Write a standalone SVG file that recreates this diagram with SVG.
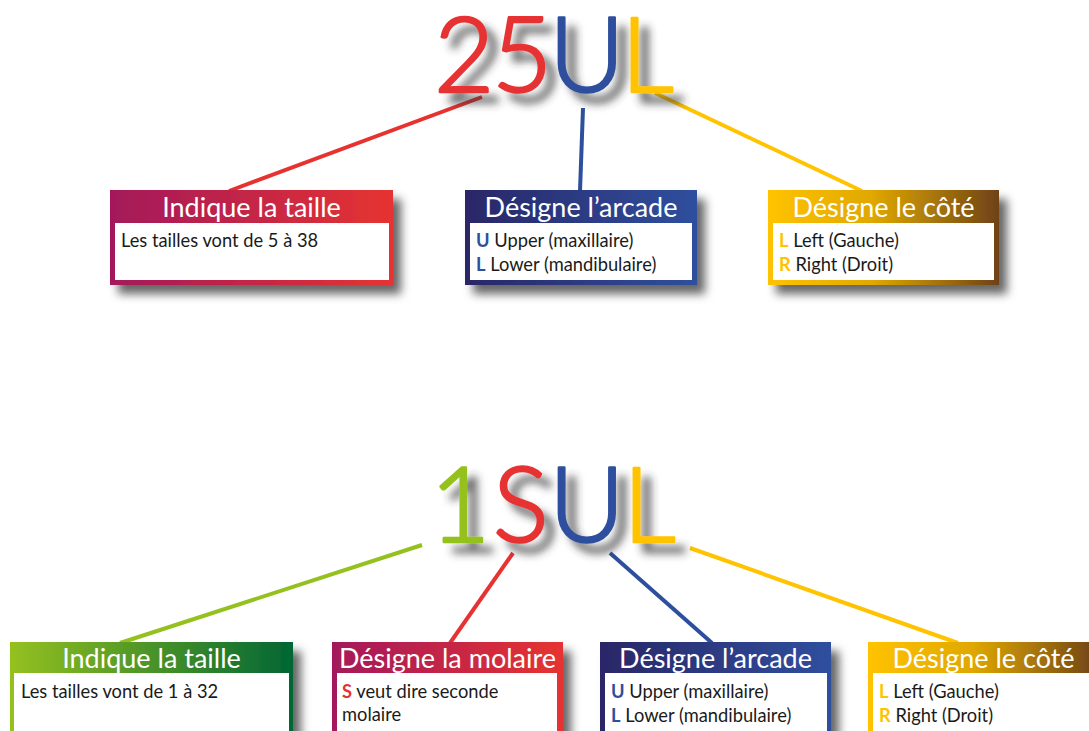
<svg xmlns="http://www.w3.org/2000/svg" width="1089" height="731" viewBox="0 0 1089 731">
<defs>
<linearGradient id="gRed" x1="0" y1="0" x2="1" y2="0"><stop offset="0" stop-color="#A3195B"/><stop offset="1" stop-color="#E63331"/></linearGradient>
<linearGradient id="gBlue" x1="0" y1="0" x2="1" y2="0"><stop offset="0" stop-color="#2B2767"/><stop offset="1" stop-color="#2E4F9E"/></linearGradient>
<linearGradient id="gYel" x1="0" y1="0" x2="1" y2="0"><stop offset="0" stop-color="#FFC300"/><stop offset="0.45" stop-color="#E0A800"/><stop offset="1" stop-color="#6E4215"/></linearGradient>
<linearGradient id="gGrn" x1="0" y1="0" x2="1" y2="0"><stop offset="0" stop-color="#95C11F"/><stop offset="1" stop-color="#006633"/></linearGradient>
<filter id="boxShadow" x="-10%" y="-10%" width="130%" height="140%"><feDropShadow dx="8" dy="9" stdDeviation="5" flood-color="#000" flood-opacity="0.6"/></filter>
<filter id="titleShadow" filterUnits="userSpaceOnUse" x="0" y="0" width="1089" height="731"><feDropShadow dx="10" dy="10" stdDeviation="4" flood-color="#333" flood-opacity="0.75"/></filter>
</defs>
<style>
.title{font-family:Lato,"Open Sans",sans-serif;font-weight:300;font-size:104px;stroke-width:2.6;stroke-linejoin:round}
.hdr{font-family:Lato,"Open Sans",sans-serif;font-size:27px;fill:#fff;text-anchor:middle}
.body{font-family:Lato,"Open Sans",sans-serif;font-size:18.3px;fill:#1a1a1a}
.b{font-weight:bold}
.line{stroke-width:4;fill:none}
.white{fill:#fff}
.red{fill:#E63331;stroke:#E63331}
.blue{fill:#2E4F9E;stroke:#2E4F9E}
.yel{fill:#FFC300;stroke:#FFC300}
.grn{fill:#95C11F;stroke:#95C11F}
</style>
<g id="connectors">
<line class="line" x1="482" y1="97" x2="229" y2="191" stroke="#E63331"/>
<line class="line" x1="583" y1="108" x2="580" y2="191" stroke="#2E4F9E"/>
<line class="line" x1="655" y1="93" x2="862" y2="191" stroke="#FFC300"/>
<line class="line" x1="422" y1="545" x2="120" y2="643" stroke="#95C11F"/>
<line class="line" x1="513" y1="553" x2="450" y2="643" stroke="#E63331"/>
<line class="line" x1="610" y1="553" x2="712" y2="643" stroke="#2E4F9E"/>
<line class="line" x1="690" y1="548" x2="958" y2="643" stroke="#FFC300"/>
</g>
<g id="title1" filter="url(#titleShadow)">
<text class="title red" x="434" y="92">2</text>
<text class="title red" x="492" y="92">5</text>
<text class="title blue" x="549" y="92">U</text>
<text class="title yel" x="621" y="92">L</text>
</g>
<g id="title2" filter="url(#titleShadow)">
<text class="title grn" x="430" y="542">1</text>
<text class="title red" x="493" y="542">S</text>
<text class="title blue" x="549" y="542">U</text>
<text class="title yel" x="623" y="542">L</text>
</g>
<g id="box-taille1">
<rect x="110" y="190" width="283" height="95" fill="url(#gRed)" filter="url(#boxShadow)"/>
<rect class="white" x="115" y="223" width="274" height="57"/>
<text class="hdr" x="251.5" y="217">Indique la taille</text>
<text class="body" x="121" y="247">Les tailles vont de 5 à 38</text>
</g>
<g id="box-arcade1">
<rect x="465" y="190" width="232" height="95" fill="url(#gBlue)" filter="url(#boxShadow)"/>
<rect class="white" x="470" y="223" width="222" height="57"/>
<text class="hdr" x="581" y="217">Désigne l’arcade</text>
<text class="body" x="476" y="247"><tspan class="b" fill="#2E4F9E">U</tspan> Upper (maxillaire)</text>
<text class="body" x="476" y="271"><tspan class="b" fill="#2E4F9E">L</tspan> Lower (mandibulaire)</text>
</g>
<g id="box-cote1">
<rect x="768" y="190" width="231" height="95" fill="url(#gYel)" filter="url(#boxShadow)"/>
<rect class="white" x="773" y="223" width="221" height="57"/>
<text class="hdr" x="883.5" y="217">Désigne le côté</text>
<text class="body" x="779" y="247"><tspan class="b" fill="#FFC300">L</tspan> Left (Gauche)</text>
<text class="body" x="779" y="271"><tspan class="b" fill="#FFC300">R</tspan> Right (Droit)</text>
</g>
<g id="box-taille2">
<rect x="10" y="642" width="283" height="100" fill="url(#gGrn)" filter="url(#boxShadow)"/>
<rect class="white" x="14" y="673" width="275" height="70"/>
<text class="hdr" x="151.5" y="668">Indique la taille</text>
<text class="body" x="21" y="698">Les tailles vont de 1 à 32</text>
</g>
<g id="box-molaire">
<rect x="332" y="642" width="231" height="100" fill="url(#gRed)" filter="url(#boxShadow)"/>
<rect class="white" x="337" y="673" width="220" height="70"/>
<text class="hdr" x="447.5" y="668">Désigne la molaire</text>
<text class="body" x="342" y="698"><tspan class="b" fill="#E63331">S</tspan> veut dire seconde</text>
<text class="body" x="342" y="721">molaire</text>
</g>
<g id="box-arcade2">
<rect x="600" y="642" width="231" height="100" fill="url(#gBlue)" filter="url(#boxShadow)"/>
<rect class="white" x="605" y="673" width="222" height="70"/>
<text class="hdr" x="715.5" y="668">Désigne l’arcade</text>
<text class="body" x="611" y="698"><tspan class="b" fill="#2E4F9E">U</tspan> Upper (maxillaire)</text>
<text class="body" x="611" y="722"><tspan class="b" fill="#2E4F9E">L</tspan> Lower (mandibulaire)</text>
</g>
<g id="box-cote2">
<rect x="868" y="642" width="231" height="100" fill="url(#gYel)" filter="url(#boxShadow)"/>
<rect class="white" x="873" y="673" width="222" height="70"/>
<text class="hdr" x="983.5" y="668">Désigne le côté</text>
<text class="body" x="879" y="698"><tspan class="b" fill="#FFC300">L</tspan> Left (Gauche)</text>
<text class="body" x="879" y="722"><tspan class="b" fill="#FFC300">R</tspan> Right (Droit)</text>
</g>
</svg>
